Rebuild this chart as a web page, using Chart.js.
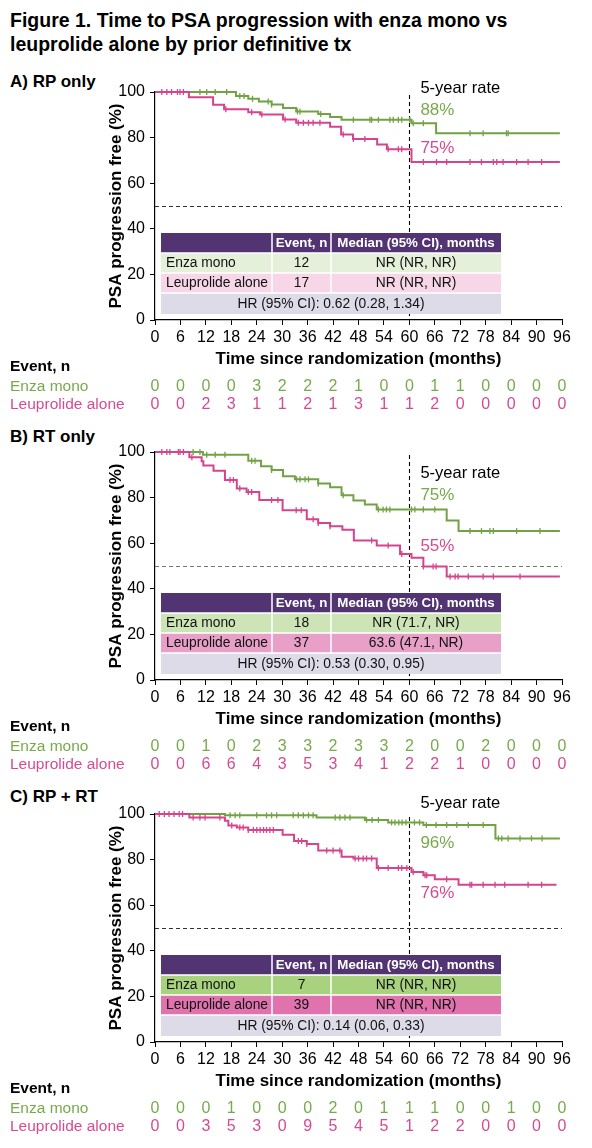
<!DOCTYPE html>
<html><head><meta charset="utf-8">
<script src="https://cdn.jsdelivr.net/npm/chart.js@4.4.1/dist/chart.umd.min.js"></script>
<style>
html,body{margin:0;padding:0;background:#fff;}
body{width:592px;height:1148px;position:relative;overflow:hidden;font-family:"Liberation Sans",Arial,sans-serif;}
.t{position:absolute;left:10px;font-weight:bold;color:#000;white-space:nowrap;}
canvas{position:absolute;left:0;}
</style></head><body>
<div class="t" style="top:8px;font-size:19.5px;line-height:24px;">Figure 1. Time to PSA progression with enza mono vs<br>leuprolide alone by prior definitive tx</div>
<div class="t" style="top:72px;font-size:17px;line-height:20px;">A) RP only</div>
<div class="t" style="top:427px;font-size:17px;line-height:20px;">B) RT only</div>
<div class="t" style="top:787px;font-size:17px;line-height:20px;">C) RP + RT</div>
<canvas id="cA" width="592" height="360" style="top:72px;width:592px;height:360px;"></canvas>
<canvas id="cB" width="592" height="360" style="top:432px;width:592px;height:360px;"></canvas>
<canvas id="cC" width="592" height="360" style="top:794px;width:592px;height:360px;"></canvas>
<script>
// ---------- shared axis data ----------
const xTicks = [0,6,12,18,24,30,36,42,48,54,60,66,72,78,84,90,96];
const seriesNames = ['Enza mono','Leuprolide alone'];

// ---------- Panel A: RP only ----------
const rpEnzaTime = [0,19.1,22,24.5,27.5,30.2,33.3,38.5,41.3,44,60.5,66.3,95.5];
const rpEnzaSurv = [100,98.3,97.0,95.8,94.5,93.0,91.5,90.3,89.0,87.8,86.3,81.9,81.9];
const rpEnzaCens = [10.6,12.2,14.2,16.9,20,21,23,26.7,27.5,33.6,34.2,39.1,46.8,50.7,51.1,52.7,55.4,56.2,57.4,58.2,60.1,60.9,63.3,74.3,77.4,82.9,83.3];
const rpLeuTime = [0,8,13.7,16.3,22,24.8,30.2,33.3,41.3,43.9,46.7,52.4,54.7,60.5,95.5];
const rpLeuSurv = [100,97.7,94.4,92.4,91.1,90.1,87.9,86.5,84.8,81.4,79.4,77.0,74.9,69.3,69.3];
const rpLeuCens = [1.6,2.8,3.9,5.3,5.9,6.7,16.7,22.8,25.2,30.7,33.8,35,36.2,37.3,38.9,44.4,46.8,49.5,55,57.4,58.2,63.3,66.4,68.8,74.3,77,79.8,80.6,82.1,85.3,88,91.2];
const rpEnzaEvents = [0,0,0,0,3,2,2,2,1,0,0,1,1,0,0,0,0];
const rpLeuEvents  = [0,0,2,3,1,1,2,1,3,1,1,2,0,0,0,0,0];
const rpTableEvents = ['12','17'];
const rpTableMedian = ['NR (NR, NR)','NR (NR, NR)'];
const rpHR = 'HR (95% CI): 0.62 (0.28, 1.34)';
const rpRates = ['88%','75%'];

// ---------- Panel B: RT only ----------
const rtEnzaTime = [0,11.3,22,25,27.5,30.2,33,38.5,41.3,44,46.8,49.5,52.3,68.8,71.6,95.5];
const rtEnzaSurv = [100,98.8,96.2,93.8,92.1,89.4,88.0,86.2,84.5,81.0,78.7,77.0,74.8,70.0,65.3,65.3];
const rtEnzaCens = [9,10.6,12.2,14.2,16.5,22.8,23.6,27.5,33.4,34.2,35.4,36.2,38.5,44.4,52.7,53.8,54.6,55.4,60.5,61.3,63.3,66,74.3,77,79,79.8,85.3,90.8];
const rtLeuTime = [0,8.1,11,11.4,13.8,16.5,19.3,21.6,24.6,30.1,35.8,38.5,41.3,44.2,46.9,52.3,57.8,60.5,63.3,68.8,95.5];
const rtLeuSurv = [100,97.7,95.9,94.1,91.8,87.7,84.0,82.5,78.9,74.4,70.5,68.9,67.4,65.9,61.2,59.0,55.3,53.6,49.8,45.4,45.4];
const rtLeuCens = [1.6,2.8,3.5,5.5,5.9,6.7,8.7,17.7,18.5,20,22,22.8,27.5,29,33.3,34.5,37.3,38.5,41.3,51.1,55,58.2,63.3,65.6,66.3,69.6,70.8,71.5,73.9,77.4,79.8,86.1];
const rtEnzaEvents = [0,0,1,0,2,3,3,2,3,3,2,0,0,2,0,0,0];
const rtLeuEvents  = [0,0,6,6,4,3,5,3,4,1,2,2,1,0,0,0,0];
const rtTableEvents = ['18','37'];
const rtTableMedian = ['NR (71.7, NR)','63.6 (47.1, NR)'];
const rtHR = 'HR (95% CI): 0.53 (0.30, 0.95)';
const rtRates = ['75%','55%'];

// ---------- Panel C: RP + RT ----------
const rprtEnzaTime = [0,16.5,38.1,49.5,55,63.3,80.3,95.5];
const rprtEnzaSurv = [100,99.4,98.5,97.4,96.3,95.2,89.3,89.3];
const rprtEnzaCens = [17.7,18.9,20,24,26.3,27.5,28.7,32.6,33.8,35,36.2,37.3,42.5,43.6,44.8,46,49.9,51.2,52.7,55.8,56.6,57.5,58.3,59.2,61.2,62.4,64,66.3,68.8,71.2,73.9,77.4,81,81.8,83.3,86.1,88.8,91.3];
const rprtLeuTime = [0,8.1,16.5,17.3,19.3,22,30.1,32.8,35.8,38.5,44,46.8,52.3,60.5,63.3,66,71.6,94.7];
const rprtLeuSurv = [100,98.5,97.0,95.0,94.1,93.0,90.9,88.2,86.8,84.0,81.3,80.5,76.3,74.6,73.1,71.4,69.0,69.0];
const rprtLeuCens = [1.0,2.2,3.3,4.5,5.7,6.5,9,10.6,11.8,15.3,18.1,20,20.8,22,23.2,24,24.8,25.6,26.3,27.1,27.9,33.8,34.6,35.8,40.5,42,43.6,47.2,48,49.1,49.9,51.1,52.7,55,57.4,58.2,59.4,60.9,63.7,64.1,68.8,74.3,74.7,77.4,80.2,82.5,88,91.2];
const rprtEnzaEvents = [0,0,0,1,0,0,0,2,0,1,1,1,0,0,1,0,0];
const rprtLeuEvents  = [0,0,3,5,3,0,9,5,4,5,1,2,2,0,0,0,0];
const rprtTableEvents = ['7','39'];
const rprtTableMedian = ['NR (NR, NR)','NR (NR, NR)'];
const rprtHR = 'HR (95% CI): 0.14 (0.06, 0.33)';
const rprtRates = ['96%','76%'];

// ---------- styling ----------
const FONT = '"Liberation Sans", Arial, Helvetica, sans-serif';
const GREEN = '#72a244', PINK = '#d6448d';
const GREEN_TXT = '#78aa4c', PINK_TXT = '#d64a92';
const PURPLE = '#533473', LAVENDER = '#dedbe9';

function levelAt(times, surv, t){
  let s = surv[0];
  for (let i=0;i<times.length;i++){ if (times[i] <= t) s = surv[i]; }
  return s;
}
function curve(times, surv){ return times.map((t,i)=>({x:t, y:surv[i]})); }
function cens(list, times, surv){ return list.map(t=>({x:t, y:levelAt(times, surv, t)})); }

const panelPlugin = {
  id: 'panel',
  beforeDatasetsDraw(chart){
    const p = chart.options.plugins.panel; if(!p) return;
    const {ctx, chartArea: ca, scales:{x, y}} = chart;
    ctx.save();
    ctx.setLineDash([4,3]);
    ctx.lineWidth = 1.2; ctx.strokeStyle = p.refColor;
    const y50 = Math.round(y.getPixelForValue(50)) + 0.5;
    ctx.beginPath(); ctx.moveTo(ca.left, y50); ctx.lineTo(ca.right, y50); ctx.stroke();
    ctx.lineWidth = 1.1; ctx.strokeStyle = '#000';
    const x60 = Math.round(x.getPixelForValue(60)) + 0.5;
    ctx.beginPath(); ctx.moveTo(x60, ca.top + 3); ctx.lineTo(x60, ca.bottom); ctx.stroke();
    ctx.restore();
  },
  afterDatasetsDraw(chart){
    const p = chart.options.plugins.panel; if(!p) return;
    const {ctx, chartArea: ca} = chart;
    ctx.save();
    const L = ca.left + 6, T = ca.top + 141;
    const cx = [L, L+111, L+170, L+340];
    const ry = [T, T+20, T+40, T+60, T+81];
    const fills = [PURPLE, p.enzaFill, p.leuFill, LAVENDER];
    for (let r=0;r<4;r++){ ctx.fillStyle = fills[r]; ctx.fillRect(cx[0], ry[r], cx[3]-cx[0], ry[r+1]-ry[r]); }
    ctx.strokeStyle = '#fff'; ctx.lineWidth = 1.5;
    ctx.beginPath();
    for (let r=1;r<4;r++){ ctx.moveTo(cx[0], ry[r]); ctx.lineTo(cx[3], ry[r]); }
    for (let c=1;c<3;c++){ ctx.moveTo(cx[c], ry[0]); ctx.lineTo(cx[c], ry[3]); }
    ctx.stroke();
    ctx.textBaseline = 'middle';
    ctx.fillStyle = '#fff'; ctx.font = 'bold 13.3px ' + FONT; ctx.textAlign = 'center';
    ctx.fillText('Event, n', (cx[1]+cx[2])/2, (ry[0]+ry[1])/2 + 0.5);
    ctx.fillText('Median (95% CI), months', (cx[2]+cx[3])/2, (ry[0]+ry[1])/2 + 0.5);
    ctx.font = '13.8px ' + FONT; ctx.fillStyle = '#111';
    for (let r=0;r<2;r++){
      const yy = (ry[r+1]+ry[r+2])/2 + 0.5;
      ctx.textAlign = 'left'; ctx.fillText(seriesNames[r], cx[0]+5, yy);
      ctx.textAlign = 'center';
      ctx.fillText(p.events[r], (cx[1]+cx[2])/2, yy);
      ctx.fillText(p.median[r], (cx[2]+cx[3])/2, yy);
    }
    ctx.fillText(p.hr, (cx[0]+cx[3])/2, (ry[3]+ry[4])/2 + 0.5);
    ctx.restore();
  },
  afterDraw(chart){
    const p = chart.options.plugins.panel; if(!p) return;
    const {ctx, chartArea: ca, scales:{x}} = chart;
    ctx.save();
    ctx.textBaseline = 'middle';
    const ax = x.getPixelForValue(60) + 11;
    ctx.textAlign = 'left';
    ctx.fillStyle = '#000'; ctx.font = '16.5px ' + FONT;
    ctx.fillText('5-year rate', ax, ca.top + p.ann[0]);
    ctx.font = '17px ' + FONT;
    ctx.fillStyle = GREEN_TXT; ctx.fillText(p.rates[0], ax, ca.top + p.ann[1]);
    ctx.fillStyle = PINK_TXT; ctx.fillText(p.rates[1], ax, ca.top + p.ann[2]);
    ctx.fillStyle = '#000'; ctx.font = 'bold 15.5px ' + FONT;
    ctx.fillText('Event, n', 10, ca.bottom + 47);
    ctx.font = '15.5px ' + FONT;
    ctx.fillStyle = GREEN_TXT; ctx.fillText(seriesNames[0], 10, ca.bottom + 66.5);
    ctx.fillStyle = PINK_TXT; ctx.fillText(seriesNames[1], 10, ca.bottom + 84.5);
    ctx.font = '16px ' + FONT; ctx.textAlign = 'center';
    xTicks.forEach((t,i)=>{
      const px = x.getPixelForValue(t);
      ctx.fillStyle = GREEN_TXT; ctx.fillText(String(p.enzaEv[i]), px, ca.bottom + 66.5);
      ctx.fillStyle = PINK_TXT; ctx.fillText(String(p.leuEv[i]), px, ca.bottom + 84.5);
    });
    ctx.restore();
  }
};

function makePanel(id, d){
  const ctx = document.getElementById(id);
  return new Chart(ctx, {
    type: 'line',
    data: {
      datasets: [
        {data: curve(d.lt, d.ls), borderColor: PINK, borderWidth: 2, pointRadius: 0, stepped: true, fill: false, clip: 6},
        {data: cens(d.lc, d.lt, d.ls), showLine: false, pointStyle: 'line', rotation: 90, pointRadius: 3, pointBorderColor: PINK, pointBackgroundColor: PINK, pointBorderWidth: 1.3, borderColor: PINK, clip: 6},
        {data: curve(d.et, d.es), borderColor: GREEN, borderWidth: 2, pointRadius: 0, stepped: true, fill: false, clip: 6},
        {data: cens(d.ec, d.et, d.es), showLine: false, pointStyle: 'line', rotation: 90, pointRadius: 3, pointBorderColor: GREEN, pointBackgroundColor: GREEN, pointBorderWidth: 1.3, borderColor: GREEN, clip: 6}
      ]
    },
    options: {
      responsive: false, animation: false, events: [],
      layout: {padding: {left: 106, top: 20, right: 30, bottom: 62}},
      plugins: {
        legend: {display: false}, tooltip: {enabled: false},
        panel: d.panel
      },
      scales: {
        x: {
          type: 'linear', min: 0, max: 96, offset: false,
          afterFit: s => { s.height = 50; },
          afterBuildTicks: s => { s.ticks = xTicks.map(v=>({value: v})); },
          ticks: {color: '#000', font: {size: 16, family: FONT}, padding: 3, maxRotation: 0, autoSkip: false},
          grid: {display: true, drawOnChartArea: false, drawTicks: true, tickLength: 5, color: '#000', lineWidth: 1},
          border: {display: true, color: '#000', width: 1.2},
          title: {display: true, text: 'Time since randomization (months)', color: '#000', font: {size: 17, weight: 'bold', family: FONT}, padding: {top: 0, bottom: 0}}
        },
        y: {
          type: 'linear', min: 0, max: 100,
          afterFit: s => { s.width = 49; },
          ticks: {stepSize: 20, color: '#000', font: {size: 16, family: FONT}, padding: 5},
          grid: {display: true, drawOnChartArea: false, drawTicks: true, tickLength: 5, color: '#000', lineWidth: 1},
          border: {display: true, color: '#000', width: 1.2},
          title: {display: true, text: 'PSA progression free (%)', color: '#000', font: {size: 17, weight: 'bold', family: FONT}, padding: {top: 0, bottom: 0}}
        }
      }
    },
    plugins: [panelPlugin]
  });
}

makePanel('cA', {
  et: rpEnzaTime, es: rpEnzaSurv, ec: rpEnzaCens, lt: rpLeuTime, ls: rpLeuSurv, lc: rpLeuCens,
  panel: {refColor: '#333', enzaFill: '#e4f0da', leuFill: '#f7d6e7', events: rpTableEvents, median: rpTableMedian, hr: rpHR,
          rates: rpRates, ann: [-3.7, 18.7, 56.3], enzaEv: rpEnzaEvents, leuEv: rpLeuEvents}
});
makePanel('cB', {
  et: rtEnzaTime, es: rtEnzaSurv, ec: rtEnzaCens, lt: rtLeuTime, ls: rtLeuSurv, lc: rtLeuCens,
  panel: {refColor: '#777', enzaFill: '#cde5b6', leuFill: '#e8a0c8', events: rtTableEvents, median: rtTableMedian, hr: rtHR,
          rates: rtRates, ann: [21.3, 43, 94.7], enzaEv: rtEnzaEvents, leuEv: rtLeuEvents}
});
makePanel('cC', {
  et: rprtEnzaTime, es: rprtEnzaSurv, ec: rprtEnzaCens, lt: rprtLeuTime, ls: rprtLeuSurv, lc: rprtLeuCens,
  panel: {refColor: '#333', enzaFill: '#a8d27d', leuFill: '#e073ad', events: rprtTableEvents, median: rprtTableMedian, hr: rprtHR,
          rates: rprtRates, ann: [-11, 29.3, 79.3], enzaEv: rprtEnzaEvents, leuEv: rprtLeuEvents}
});
</script>
</body></html>
